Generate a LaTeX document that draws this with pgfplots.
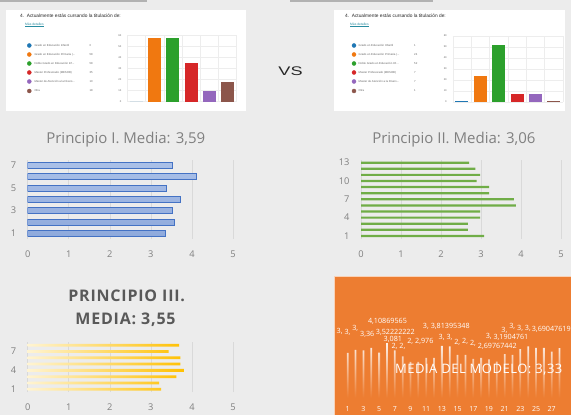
\documentclass[border=0pt]{standalone}
\usepackage{pgfplots}
\pgfplotsset{compat=1.18}
\usepackage{pgfplotstable}
\usepackage{fontspec}
\setmainfont{Open Sans}
\newfontfamily\arialf{Liberation Sans}
\newfontfamily\osspaced[LetterSpace=5]{Open Sans}
\newfontfamily\osmodel[LetterSpace=4]{Open Sans}

\definecolor{bg}{RGB}{236,236,236}
\definecolor{gfblue}{RGB}{31,119,180}
\definecolor{gforange}{RGB}{240,120,16}
\definecolor{gfgreen}{RGB}{44,160,44}
\definecolor{gfred}{RGB}{214,39,40}
\definecolor{gfpurple}{RGB}{148,103,189}
\definecolor{gfbrown}{RGB}{140,86,75}
\definecolor{xlblue}{RGB}{68,114,196}
\definecolor{xlbluefill}{RGB}{143,170,220}
\definecolor{xlbluelight}{RGB}{170,192,232}
\definecolor{xlgreen}{RGB}{112,173,71}
\definecolor{xlgold}{RGB}{255,192,0}
\definecolor{xlgoldlight}{RGB}{255,244,210}
\definecolor{xlorange}{RGB}{237,125,49}
\definecolor{gridc}{RGB}{217,217,217}
\definecolor{tickc}{RGB}{128,128,128}
\definecolor{darkt}{RGB}{89,89,89}
\definecolor{linkc}{RGB}{40,140,160}

% model: 28 item means (P.I 1-7, P.II 8-20, P.III 21-28); lab = visible part of data label
\pgfplotstableread{
i v lab
1 3.35 {}
2 3.57 3,
3 3.52 3,
4 3.72 3,
5 3.37 3,36
6 4.11 4,10869565
7 3.52 3,52222222
8 3.08 3,081
9 2.67 2,
10 2.67 2,
11 2.98 2,
12 2.98 2,976
13 3.87 3,
14 3.82 3,81395348
15 3.20 3,
16 3.20 3,
17 2.89 2,
18 2.98 2,
19 2.86 2,
20 2.70 2,69767442
21 3.25 3,
22 3.20 3,1904761
23 3.62 3,
24 3.82 3,
25 3.72 3,
26 3.72 3,
27 3.43 {}
28 3.69 3,69047619
}\modeldata

\pgfplotsset{
  gbar/.style={ybar, bar width=13pt, bar shift=0pt, draw=none},
  gfaxis/.style={anchor=south west, scale only axis, width=110pt, height=66pt,
    xmin=0.5, xmax=6.5, ymin=0, ymax=60,
    xtick={0.5,1.5,...,6.5}, xticklabels={}, ytick={0,10,...,60},
    grid=major, major grid style={draw=black!7, line width=0.4pt},
    axis line style={draw=none}, major tick length=0pt,
    tick label style={font=\arialf\fontsize{2.6}{3}\selectfont, text=black!60},
    yticklabel style={xshift=-2.5pt},
    /pgf/number format/assume math mode=true,
    extra y ticks={0}, extra y tick labels={},
    extra y tick style={grid style={draw=black!30, line width=0.4pt}}},
  pbar/.style={anchor=south west, scale only axis, xbar,
    xmin=0, xmax=5, xtick={0,...,5},
    xmajorgrids, ymajorgrids=false, major grid style={draw=gridc, line width=0.6pt},
    axis line style={draw=none}, major tick length=0pt,
    /pgf/number format/assume math mode=true,
    tick label style={font=\fontsize{9.3}{11}\selectfont, text=tickc},
    xticklabel style={yshift=-8pt}, yticklabel style={xshift=-8pt}},
  mlab/.style={draw=none, mark=none, nodes near coords, point meta=explicit symbolic,
    every node near coord/.append style={font=\fontsize{7.2}{8}\selectfont, text=white,
      fill=xlorange, inner sep=0.4pt}},
}

\begin{document}
\begin{tikzpicture}
\useasboundingbox (0,0) rectangle (571pt,415pt);
\clip (0,0) rectangle (571pt,415pt);
\begin{scope}[shift={(0pt,415pt)}, x=1pt, y=-1pt]
  \fill[bg] (0,0) rectangle (571,415);
  \fill[black!30] (0,0) rectangle (147,2);
  \fill[black!30] (290,0) rectangle (433,2);
  \fill[white] (6,10) rectangle (246,111);
  \fill[white] (334,10) rectangle (565,111);
  \fill[xlorange] (334.3,275.7) rectangle (571,415);
  \draw[white!65!xlorange, line width=0.8pt] (334.7,415) -- (334.7,276.1) -- (571,276.1);
  % card texts
  \foreach \cx in {20,345}{
    \node[anchor=west, inner sep=0pt, font=\arialf\fontsize{4.8}{5}\selectfont, text=black!85] at (\cx,16) {4.\ \ Actualmente estás cursando la titulación de:};
  }
  \node[anchor=west, inner sep=0pt, font=\arialf\fontsize{3.3}{4}\selectfont, text=linkc] at (25,25) {\underline{Más detalles}};
  \node[anchor=west, inner sep=0pt, font=\arialf\fontsize{3.3}{4}\selectfont, text=linkc] at (350,25) {\underline{Más detalles}};
  \begin{scope}[every node/.style={anchor=west, inner sep=0pt, font=\arialf\fontsize{2.8}{3}\selectfont, text=black!60}]
    \node at (34.3,45.5) {Grado en Educación Infantil};
    \node at (34.3,54.5) {Grado en Educación Primaria (...};
    \node at (34.3,63.5) {Doble Grado en Educación Inf...};
    \node at (34.3,72.5) {Master Profesorado (MESOB)};
    \node at (34.3,81.5) {Master de Atención a la Divers...};
    \node at (34.3,91) {Otra};
    \node at (89.3,45.5) {0};
    \node at (89.3,54.5) {58};
    \node at (89.3,63.5) {58};
    \node at (89.3,72.5) {35};
    \node at (89.3,81.5) {10};
    \node at (89.3,91) {18};
    \node at (358.5,45.5) {Grado en Educación Infantil};
    \node at (358.5,54.5) {Grado en Educación Primaria (...};
    \node at (358.5,63.5) {Doble Grado en Educación Inf...};
    \node at (358.5,72.5) {Master Profesorado (MESOB)};
    \node at (358.5,81.5) {Master de Atención a la Divers...};
    \node at (358.5,91) {Otra};
    \node at (414,45.5) {1};
    \node at (414,54.5) {24};
    \node at (414,63.5) {52};
    \node at (414,72.5) {7};
    \node at (414,81.5) {7};
    \node at (414,91) {1};
  \end{scope}
  \node[font=\arialf\fontsize{12.5}{14}\selectfont, xscale=1.45, text=black!85] at (290.5,71.7) {VS};
  \node[font=\fontsize{15}{18}\selectfont, text=tickc] at (125.8,139.3) {Principio I. Media: 3,59};
  \node[font=\fontsize{15}{18}\selectfont, text=tickc] at (453.9,140) {Principio II. Media: 3,06};
  \node[font=\osspaced\bfseries\fontsize{16}{19}\selectfont, text=darkt] at (126.7,296) {PRINCIPIO III.};
  \node[font=\osspaced\bfseries\fontsize{16}{19}\selectfont, text=darkt] at (125.5,319.3) {MEDIA: 3,55};
\end{scope}

% legend dots
\begin{axis}[at={(0pt,0pt)}, anchor=south west, scale only axis, width=571pt, height=415pt,
  xmin=0, xmax=571, ymin=0, ymax=415, y dir=reverse, hide axis, clip=false]
  \addplot[only marks, mark=*, mark size=2pt, gfblue] coordinates {(29.3,45.5) (354,45.5)};
  \addplot[only marks, mark=*, mark size=2pt, gforange] coordinates {(29.3,54.5) (354,54.5)};
  \addplot[only marks, mark=*, mark size=2pt, gfgreen] coordinates {(29.3,63.5) (354,63.5)};
  \addplot[only marks, mark=*, mark size=2pt, gfred] coordinates {(29.3,72.5) (354,72.5)};
  \addplot[only marks, mark=*, mark size=2pt, gfpurple] coordinates {(29.3,81.5) (354,81.5)};
  \addplot[only marks, mark=*, mark size=2pt, gfbrown] coordinates {(29.3,91) (354,91)};
\end{axis}

% top-left column chart
\begin{axis}[gfaxis, at={(127.3pt,313.3pt)}, width=109.4pt]
  \addplot[gbar, fill=gfblue] coordinates {(1,0)};
  \addplot[gbar, fill=gforange] coordinates {(2,58)};
  \addplot[gbar, fill=gfgreen] coordinates {(3,58)};
  \addplot[gbar, fill=gfred] coordinates {(4,35)};
  \addplot[gbar, fill=gfpurple] coordinates {(5,10)};
  \addplot[gbar, fill=gfbrown] coordinates {(6,18)};
\end{axis}

% top-right column chart
\begin{axis}[gfaxis, at={(452.7pt,313pt)}, width=110.3pt]
  \addplot[gbar, fill=gfblue] coordinates {(1,1)};
  \addplot[gbar, fill=gforange] coordinates {(2,24)};
  \addplot[gbar, fill=gfgreen] coordinates {(3,52)};
  \addplot[gbar, fill=gfred] coordinates {(4,7)};
  \addplot[gbar, fill=gfpurple] coordinates {(5,7)};
  \addplot[gbar, fill=gfbrown] coordinates {(6,1)};
\end{axis}

% Principio I
\begin{axis}[pbar, at={(27.7pt,176pt)}, width=205.3pt, height=79.3pt,
  ymin=0.5, ymax=7.5, ytick={1,3,5,7}, bar width=6pt]
  \addplot[top color=xlbluelight, bottom color=xlbluefill, draw=xlblue, line width=0.8pt]
    coordinates {(3.35,1) (3.57,2) (3.52,3) (3.72,4) (3.37,5) (4.11,6) (3.52,7)};
\end{axis}

% Principio II
\begin{axis}[pbar, at={(361pt,176pt)}, width=200pt, height=79.4pt,
  ymin=0.5, ymax=13.5, ytick={1,4,7,10,13}, bar width=2.2pt]
  \addplot[fill=xlgreen, draw=none]
    coordinates {(3.08,1) (2.67,2) (2.67,3) (2.98,4) (2.98,5) (3.87,6) (3.82,7)
                 (3.20,8) (3.20,9) (2.89,10) (2.98,11) (2.86,12) (2.70,13)};
\end{axis}

% Principio III
\begin{axis}[pbar, at={(27.7pt,22.6pt)}, width=205.3pt, height=50.3pt,
  ymin=0.5, ymax=8.5, ytick={1,4,7}, bar width=2.8pt]
  \addplot[left color=xlgoldlight, right color=xlgold, draw=none]
    coordinates {(3.25,1) (3.20,2) (3.62,3) (3.82,4) (3.72,5) (3.72,6) (3.43,7) (3.69,8)};
\end{axis}

% Model chart (orange panel)
\begin{scope}
\clip (334.3pt,0pt) rectangle (571pt,139.3pt);
\begin{axis}[at={(343.8pt,17pt)}, anchor=south west, scale only axis, width=219.7pt, height=67.5pt,
  xmin=0.5, xmax=28.5, ymin=0, ymax=5, axis line style={draw=none}, major tick length=0pt,
  xtick={1,3,...,27}, ytick=\empty, /pgf/number format/assume math mode=true,
  xticklabel style={font=\fontsize{7}{8}\selectfont, text=white, yshift=-5pt}, clip=false]
  \addplot[ybar, bar width=1.8pt, draw=none, top color=white, bottom color=xlorange, fill opacity=0.9]
    table[x=i, y=v] {\modeldata};
\end{axis}
\begin{axis}[at={(343.8pt,22.5pt)}, anchor=south west, scale only axis, width=219.7pt, height=86pt,
  xmin=0.5, xmax=28.5, ymin=0, ymax=5, hide axis, clip=false]
  \addplot[mlab, restrict x to domain=1:27,
    every node near coord/.append style={anchor=west, xshift=-19.5pt}]
    table[x=i, y=v, meta=lab] {\modeldata};
  \addplot[mlab, restrict x to domain=28:28,
    every node near coord/.append style={anchor=west, xshift=-28.3pt}]
    table[x=i, y=v, meta=lab] {\modeldata};
\end{axis}
\end{scope}

\begin{scope}[shift={(0pt,415pt)}, x=1pt, y=-1pt]
  \node[font=\osmodel\fontsize{13}{15}\selectfont, text=white] at (478.7,370) {MEDIA DEL MODELO: 3,33};
\end{scope}
\end{tikzpicture}
\end{document}
